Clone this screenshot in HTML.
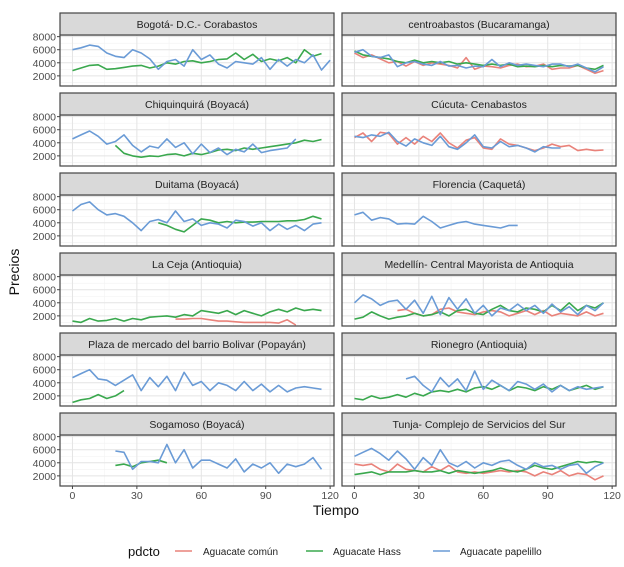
<!DOCTYPE html>
<html><head><meta charset="utf-8">
<style>
body{margin:0;background:#fff;font-family:"Liberation Sans",sans-serif;}
svg text{font-family:"Liberation Sans","Noto Sans CJK SC",sans-serif;}
</style></head>
<body>
<svg id="chart" width="624" height="562" viewBox="0 0 624 562" xmlns="http://www.w3.org/2000/svg">
<text x="0" y="0" transform="translate(19,272) rotate(-90)" text-anchor="middle" font-size="14" fill="#111">Precios</text>
<text x="336" y="515" text-anchor="middle" font-size="14" fill="#111">Tiempo</text>
<g>
<text x="128" y="556" font-size="13" fill="#111">pdcto</text>
<line x1="175" y1="551" x2="192" y2="551" stroke="#e9827a" stroke-width="1.6"/>
<text x="203" y="555" font-size="10" fill="#222">Aguacate común</text>
<line x1="306" y1="551" x2="323" y2="551" stroke="#3aa84e" stroke-width="1.6"/>
<text x="333" y="555" font-size="10" fill="#222">Aguacate Hass</text>
<line x1="433" y1="551" x2="450" y2="551" stroke="#6a9bd6" stroke-width="1.6"/>
<text x="460" y="555" font-size="10" fill="#222">Aguacate papelillo</text>
</g>
</svg>
<script>
// Panel titles
const panelTitles = ["Bogotá- D.C.- Corabastos","centroabastos (Bucaramanga)","Chiquinquirá (Boyacá)","Cúcuta- Cenabastos","Duitama (Boyacá)","Florencia (Caquetá)","La Ceja (Antioquia)","Medellín- Central Mayorista de Antioquia","Plaza de mercado del barrio Bolivar (Popayán)","Rionegro (Antioquia)","Sogamoso (Boyacá)","Tunja- Complejo de Servicios del Sur"];
const xTicks = [0,30,60,90,120];
const yTicks = [2000,4000,6000,8000];
const seriesNames = ["comun","hass","papelillo"];
// Series: prices in thousands, sampled every 4 time units from the start time
const start = [
 [null,0,0],[0,0,0],[null,20,0],[0,null,0],[null,40,0],[null,null,0],
 [48,0,null],[20,0,0],[null,0,0],[null,0,24],[null,20,20],[0,0,0]];
const comun = [
 null,
 [5.5,4.8,5.2,4.6,4.0,4.2,3.5,4.2,3.6,4.0,3.8,3.6,3.2,4.8,3.0,3.5,3.4,3.2,3.6,3.8,3.4,3.5,3.8,3.0,3.2,3.2,3.6,3.0,2.4,2.8],
 null,
 [4.8,5.5,4.2,5.6,5.4,3.8,4.8,3.8,5.0,4.2,5.5,4.0,3.2,4.4,4.8,3.2,3.0,4.6,3.8,3.6,3.2,2.8,3.2,3.8,3.4,3.6,2.8,3.0,2.8,2.9],
 null,null,
 [1.5,1.5,1.6,1.6,1.4,1.2,1.2,1.1,1.0,1.0,1.0,1.0,0.9,1.4,0.6],
 [2.8,3.0,2.4,2.0,2.2,3.0,3.2,2.6,2.4,2.2,2.6,2.8,2.6,2.0,2.4,2.8,2.2,2.8,2.0,2.4,2.2,2.0,2.6,2.0,2.4],
 null,null,null,
 [3.8,3.6,3.8,3.0,2.6,3.8,3.0,2.8,2.6,3.4,2.8,3.6,2.6,2.4,2.6,2.4,2.6,2.8,2.6,2.8,2.6,2.0,2.6,2.2,2.8,2.0,2.4,2.2,1.4,2.0]];
const hass = [
 [2.8,3.2,3.6,3.7,3.0,3.1,3.3,3.5,3.6,3.2,3.5,4.0,3.8,4.2,4.3,4.0,4.2,4.5,4.6,5.5,4.5,5.3,4.2,4.6,4.3,4.8,4.0,6.0,5.0,5.4],
 [5.8,5.2,5.0,4.8,4.6,4.2,4.0,4.4,4.0,4.2,4.0,4.2,3.8,4.0,3.8,3.6,3.8,3.6,3.8,3.4,3.5,3.4,3.6,3.4,3.6,3.5,3.6,3.2,3.0,3.6],
 [3.6,2.4,2.0,1.8,2.0,1.9,2.2,2.3,2.0,2.4,2.2,2.5,2.9,3.0,2.8,3.2,3.0,3.2,3.4,3.6,3.8,4.0,4.4,4.2,4.5],
 null,
 [4.0,3.6,3.0,2.6,3.6,4.6,4.4,4.0,4.2,4.0,4.1,4.1,4.2,4.2,4.2,4.3,4.3,4.5,5.0,4.6],
 null,
 [1.2,1.0,1.6,1.2,1.3,1.6,1.2,1.6,1.4,1.8,1.9,2.0,1.8,2.2,2.0,2.8,2.6,2.4,2.8,2.2,2.8,2.4,2.0,2.6,3.0,2.6,3.2,2.8,3.0,2.8],
 [1.5,1.8,2.6,2.0,1.5,1.8,2.0,2.4,2.0,2.2,2.6,2.0,2.8,3.0,2.4,2.2,3.0,3.6,2.8,2.6,3.2,3.0,2.6,3.6,2.8,4.0,2.8,3.6,3.2,4.0],
 [1.0,1.4,1.6,2.2,1.6,2.0,2.8],
 [1.6,1.4,2.0,1.6,1.8,2.2,1.8,2.4,2.0,2.6,2.8,2.6,3.0,2.6,3.2,3.4,3.0,3.6,2.8,3.4,3.2,2.8,3.4,3.0,3.6,2.8,3.2,3.6,3.0,3.4],
 [3.6,3.8,3.4,4.0,4.2,4.4,4.0],
 [2.2,2.4,2.6,2.2,2.6,2.6,2.6,2.8,2.6,2.6,2.8,2.4,2.8,2.6,2.4,2.6,2.8,3.2,2.8,2.6,3.0,3.6,3.2,3.0,3.4,3.8,4.2,4.0,4.2,4.0]];
const papelillo = [
 [6.0,6.3,6.7,6.5,5.5,5.0,4.8,6.0,5.5,4.6,3.0,4.2,4.5,3.5,6.0,4.5,5.2,3.8,3.2,4.2,4.0,3.8,4.8,3.0,4.5,3.5,4.5,4.0,5.2,2.9,4.4],
 [5.6,6.0,5.0,4.8,5.2,3.4,4.0,4.2,3.8,3.6,4.2,3.5,3.6,3.2,3.5,3.4,4.5,3.4,4.0,3.6,3.8,3.6,3.4,3.8,3.8,3.4,3.8,3.2,2.6,3.4],
 [4.6,5.2,5.8,5.0,3.8,4.2,5.2,3.6,2.6,3.5,3.2,4.6,3.3,4.0,2.3,3.8,2.5,3.2,2.2,3.0,2.6,3.8,2.5,2.8,3.0,3.2,4.6],
 [5.0,4.8,5.2,5.0,5.6,4.2,3.5,4.6,4.0,3.6,5.0,3.4,3.0,4.0,5.2,3.4,3.2,4.2,3.4,3.6,3.2,2.6,3.4,3.2,3.2],
 [5.8,6.8,7.2,6.0,5.2,5.4,5.0,4.0,2.8,4.2,4.5,4.0,5.8,4.2,4.6,3.6,4.0,3.8,3.2,4.4,4.2,3.5,4.0,2.8,3.8,3.0,3.6,2.8,3.8,4.0],
 [5.2,5.6,4.4,4.8,4.6,3.8,3.9,3.8,5.0,4.2,3.2,3.6,4.0,4.2,3.8,3.6,3.4,3.2,3.6,3.6],
 null,
 [4.0,5.2,4.6,3.6,4.2,4.4,3.0,4.4,2.4,5.0,2.2,4.8,3.0,4.6,2.4,3.6,2.0,3.2,2.8,3.8,2.8,3.6,2.4,3.8,2.6,3.4,2.2,3.6,2.8,4.0],
 [4.8,5.4,6.0,4.6,4.4,3.6,4.4,5.2,2.8,4.8,3.4,5.0,2.8,5.6,3.6,4.2,2.8,4.0,3.6,2.8,4.2,2.8,3.8,2.6,3.6,2.6,3.2,3.4,3.2,3.0],
 [4.6,5.0,3.6,2.6,4.8,3.4,4.6,2.8,5.8,3.0,4.4,3.6,2.8,4.2,3.8,3.0,3.8,2.6,3.6,2.8,3.4,3.0,3.2,3.4],
 [5.8,5.6,3.0,4.2,4.2,4.0,6.8,4.0,6.0,3.2,4.4,4.4,3.8,3.2,4.6,2.6,3.8,3.2,4.0,2.4,3.8,3.4,3.8,4.8,3.0],
 [5.0,5.6,6.2,5.4,4.4,5.8,4.6,3.0,4.8,3.6,6.0,4.0,3.4,4.2,3.2,4.0,3.6,4.2,4.4,3.6,3.0,4.0,3.4,3.6,3.0,3.6,3.8,2.4,3.4,4.0]];

const NS="http://www.w3.org/2000/svg";
const svg=document.getElementById('chart');
const colors={comun:"#e9827a",hass:"#3aa84e",papelillo:"#6a9bd6"};
const allSeries={comun:comun,hass:hass,papelillo:papelillo};
const colX=[60,342], panelW=274, stripH=22, plotH=51;
function mk(tag,attrs,parent){const e=document.createElementNS(NS,tag);for(const k in attrs)e.setAttribute(k,attrs[k]);(parent||svg).appendChild(e);return e;}
const xDom=[-5.8,121.8], yDom=[450,8250];
function xs(px,t){return px+(t-xDom[0])/(xDom[1]-xDom[0])*panelW;}
function ys(py,v){return py+plotH-(v-yDom[0])/(yDom[1]-yDom[0])*plotH;}

panelTitles.forEach((title,i)=>{
  const col=i%2,row=Math.floor(i/2);
  const px=colX[col], sy=13+row*80, py=sy+stripH;
  const g=mk('g',{});
  
  
  const bg=mk('rect',{x:px,y:py,width:panelW,height:plotH,fill:'#fff'},g);
  
  
  // grid
  for(let t=15;t<=120;t+=30){const l=mk('line',{x1:xs(px,t),x2:xs(px,t),y1:py,y2:py+plotH,stroke:'#f2f2f2','stroke-width':0.6},g);}
  for(let v=1000;v<=8000;v+=2000){const l=mk('line',{x1:px,x2:px+panelW,y1:ys(py,v),y2:ys(py,v),stroke:'#f2f2f2','stroke-width':0.6},g);}
  xTicks.forEach(t=>{const l=mk('line',{x1:xs(px,t),x2:xs(px,t),y1:py,y2:py+plotH,stroke:'#e4e4e4','stroke-width':1},g);});
  yTicks.forEach(v=>{const l=mk('line',{x1:px,x2:px+panelW,y1:ys(py,v),y2:ys(py,v),stroke:'#e4e4e4','stroke-width':1},g);});
  // series
  seriesNames.forEach((s,si)=>{
    const vals=allSeries[s][i]; if(!vals)return;
    const t0=start[i][si];
    const pts=vals.map((v,k)=>xs(px,t0+4*k).toFixed(1)+','+ys(py,v*1000).toFixed(1)).join(' ');
    const pl=mk('polyline',{points:pts,fill:'none',stroke:colors[s],'stroke-width':1.6,'stroke-linejoin':'round'},g);
    
    
  });
  const br=mk('rect',{x:px,y:py,width:panelW,height:plotH,fill:'none',stroke:'#444','stroke-width':1.2},g);
  
  
  const st=mk('rect',{x:px,y:sy,width:panelW,height:stripH,fill:'#d9d9d9',stroke:'#444','stroke-width':1.2},g);
  
  
  const tt=mk('text',{x:px+panelW/2,y:sy+15,'text-anchor':'middle','font-size':10.5,fill:'#222'},g);
  tt.textContent=title;
  
  
  if(col===0){
    yTicks.forEach(v=>{
      const y=ys(py,v);
      const tk=mk('line',{x1:px-3,x2:px,y1:y,y2:y,stroke:'#444'},g);
      
      
      const tl=mk('text',{x:px-4,y:y+4,'text-anchor':'end','font-size':10.5,fill:'#4d4d4d'},g);
      tl.textContent=v;
      
      
    });
  }
  if(row===5){
    xTicks.forEach(t=>{
      const x=xs(px,t);
      const tk=mk('line',{x1:x,x2:x,y1:py+plotH,y2:py+plotH+3,stroke:'#444'},g);
      
      
      const tl=mk('text',{x:x,y:py+plotH+13,'text-anchor':'middle','font-size':10.5,fill:'#4d4d4d'},g);
      tl.textContent=t;
      
      
    });
  }
});
</script>
</body></html>
